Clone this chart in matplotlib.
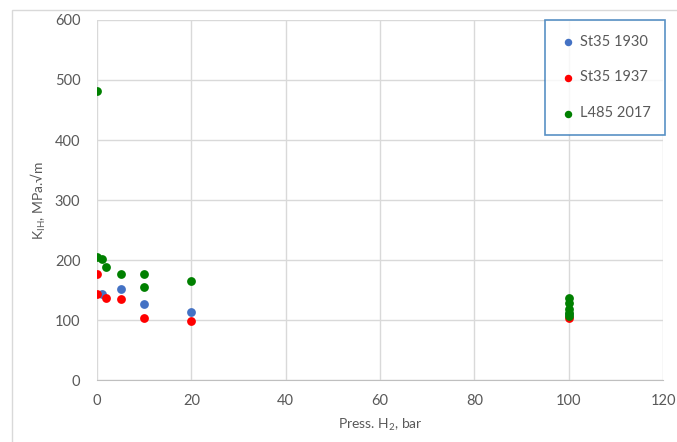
import matplotlib.pyplot as plt
from matplotlib.patches import Rectangle

plt.rcParams['font.family'] = ['Lato', 'DejaVu Sans']
plt.rcParams['mathtext.fontset'] = 'custom'
plt.rcParams['mathtext.rm'] = 'Lato'

# K_IH measurements by hydrogen pressure
st35_1930_p = [1, 5, 10, 20, 100]
st35_1930_k = [144, 152, 127, 114, 110]

st35_1937_p = [0, 0, 2, 5, 10, 20, 100]
st35_1937_k = [176, 143, 137, 135, 104, 98, 103]

l485_2017_p = [0, 0, 1, 2, 5, 10, 10, 20, 100, 100, 100, 100, 100]
l485_2017_k = [482, 205, 201, 188, 176, 177, 155, 165, 136, 128, 119, 111, 107]

series = [
    ('St35 1930', st35_1930_p, st35_1930_k, '#4472C4'),
    ('St35 1937', st35_1937_p, st35_1937_k, '#FF0000'),
    ('L485 2017', l485_2017_p, l485_2017_k, '#008000'),
]

fig = plt.figure(figsize=(6.77, 4.42), dpi=100)
W, H = 677, 442
ax = fig.add_axes([97 / W, 1 - 380 / H, 566 / W, 360 / H])

# chart area outline
fig.patches.append(Rectangle((12 / W, -0.1), 1.2, 1 - 10 / H + 0.1, transform=fig.transFigure,
                             fill=False, edgecolor='#D9D9D9', linewidth=1))

for label, p, k, c in series:
    ax.scatter(p, k, s=40, color=c, label=label, zorder=3, linewidths=0)

ax.set_xlim(0, 120)
ax.set_ylim(0, 600)
ax.set_xticks(range(0, 121, 20))
ax.set_yticks(range(0, 601, 100))
ax.grid(True, color='#D9D9D9', linewidth=1)
ax.set_axisbelow(True)
for s in ['top', 'right', 'left']:
    ax.spines[s].set_visible(False)
ax.spines['bottom'].set_color('#BFBFBF')
ax.tick_params(length=0, labelsize=10.5, colors='#595959', pad=10)
ax.tick_params(axis='y', pad=12)

ax.set_xlabel('Press. H$_2$, bar', fontsize=10, color='#595959', labelpad=6)
ax.set_ylabel('K$_{\\rm IH}$, MPa.√m', fontsize=10, color='#595959', labelpad=5)

leg = ax.legend(loc='upper right', bbox_to_anchor=(1.004, 1.0), fontsize=10.5,
                frameon=True, fancybox=False, labelspacing=1.5, borderpad=1.0,
                handletextpad=0.2, handlelength=1.2, markerscale=0.85, borderaxespad=0)
leg.get_frame().set_edgecolor('#2E75B6')
leg.get_frame().set_linewidth(1.2)
for t in leg.get_texts():
    t.set_color('#595959')

fig.savefig('out.png', dpi=100)
